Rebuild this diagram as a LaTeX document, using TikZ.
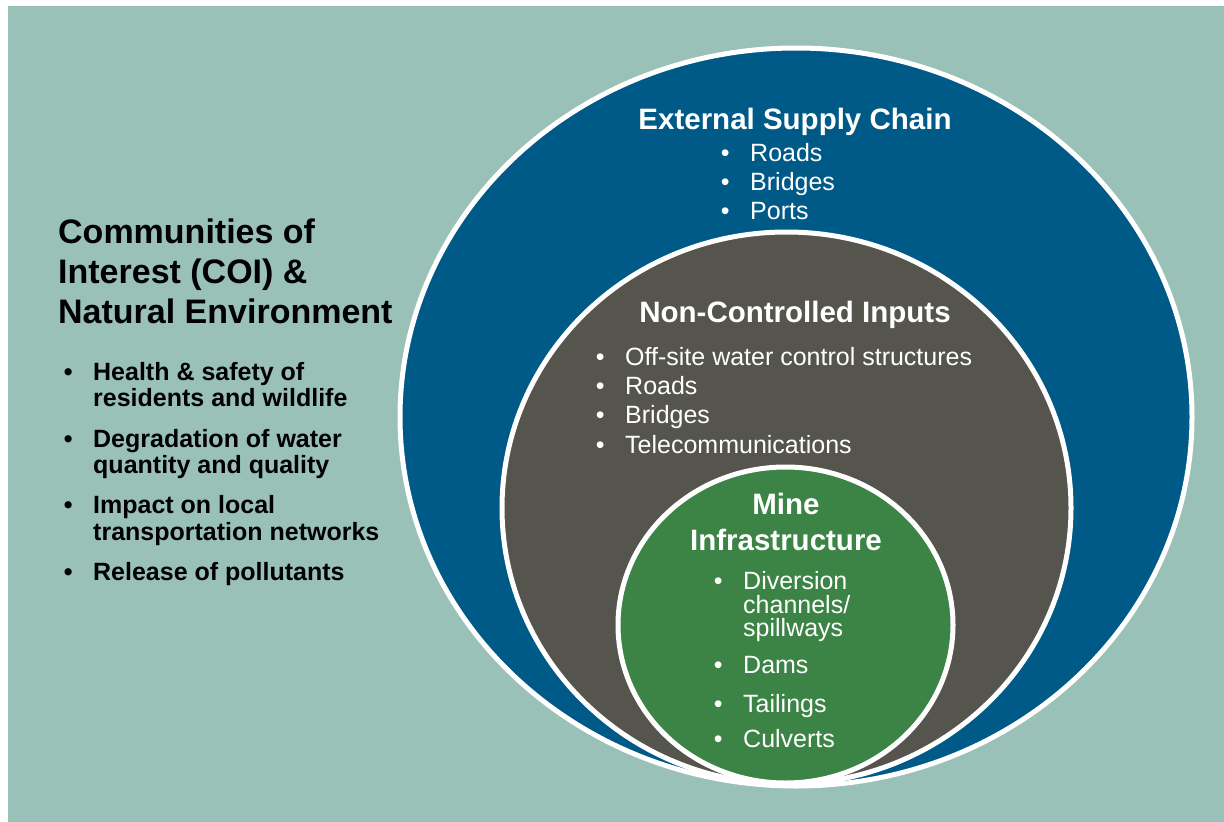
\documentclass[tikz,border=0pt]{standalone}
\usepackage{fontspec}
\setmainfont{Liberation Sans}
\usepackage{tikz}

\definecolor{bgteal}{RGB}{153,193,183}
\definecolor{supplyblue}{RGB}{0,90,135}
\definecolor{inputgray}{RGB}{85,85,77}
\definecolor{minegreen}{RGB}{59,132,69}
\newcommand{\blt}{\llap{\textbullet\hspace{20.6pt}}}

\begin{document}
\begin{tikzpicture}[x=1pt,y=-1pt]
\tikzstyle{every node}+=[inner sep=0pt]
\tikzstyle{ring}=[draw=white,line width=5pt]
\tikzstyle{hd}=[anchor=base,text=white,font=\fontsize{29.5}{36}\selectfont\bfseries]
\tikzstyle{li}=[anchor=base west,text=white,font=\fontsize{25}{29}\selectfont]
\tikzstyle{coi}=[anchor=base west,font=\fontsize{25}{26}\selectfont\bfseries]
\useasboundingbox (0,0) rectangle (1224,822);
\fill [white] (0,0) rectangle (1224,822);
\fill [bgteal] (8,6) rectangle (1224,822);
\draw [ring,fill=supplyblue] (796,417) ellipse [x radius=396pt, y radius=369pt];
\draw [ring,fill=inputgray] (786.5,508) ellipse [x radius=284.5pt, y radius=276pt];
\draw [ring,fill=minegreen] (785.5,625) ellipse [x radius=167.5pt, y radius=158pt];
\node [anchor=base west,font=\fontsize{34}{40}\selectfont\bfseries] (coi1) at (58,243) {Communities of};
\node [anchor=base west,font=\fontsize{34}{40}\selectfont\bfseries] (coi2) at (58,283) {Interest (COI) \&};
\node [anchor=base west,font=\fontsize{34}{40}\selectfont\bfseries] (coi3) at (58,323) {Natural Environment};
\node [coi] (health) at (93,380) {\blt Health \& safety of};
\node [coi] (health2) at (93,406) {residents and wildlife};
\node [coi] (water) at (93,447) {\blt Degradation of water};
\node [coi] (water2) at (93,473) {quantity and quality};
\node [coi] (transport) at (93,513) {\blt Impact on local};
\node [coi] (transport2) at (93,540) {transportation networks};
\node [coi] (pollut) at (93,580) {\blt Release of pollutants};
\node [hd] (supply) at (795,129) {External Supply Chain};
\node [li] (sroads) at (750,161) {\blt Roads};
\node [li] (sbridges) at (750,190) {\blt Bridges};
\node [li] (sports) at (750,219) {\blt Ports};
\node [hd] (inputs) at (795,322) {Non-Controlled Inputs};
\node [li] (offsite) at (625,365) {\blt Off-site water control structures};
\node [li] (iroads) at (625,394) {\blt Roads};
\node [li] (ibridges) at (625,423) {\blt Bridges};
\node [li] (telecom) at (625,453) {\blt Telecommunications};
\node [hd] (mine) at (786,514) {Mine};
\node [hd] (infra) at (786,550) {Infrastructure};
\node [li] (divers) at (743,589) {\blt Diversion};
\node [li] (divers2) at (743,613) {channels/};
\node [li] (divers3) at (743,636) {spillways};
\node [li] (dams) at (743,673) {\blt Dams};
\node [li] (tailings) at (743,712) {\blt Tailings};
\node [li] (culverts) at (743,747) {\blt Culverts};
\end{tikzpicture}
\end{document}
